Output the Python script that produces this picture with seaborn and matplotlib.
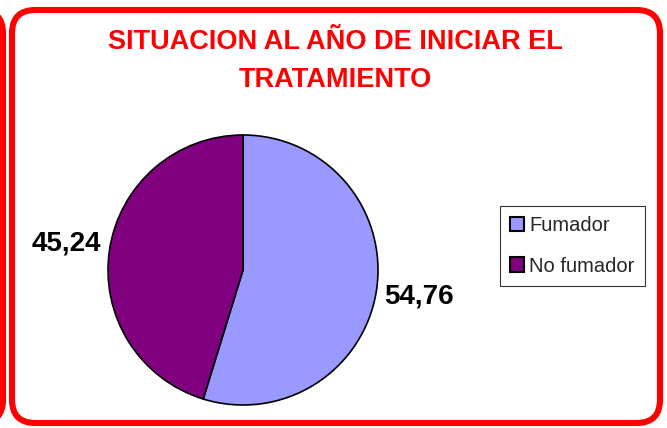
import matplotlib
matplotlib.use("Agg")
import matplotlib.pyplot as plt
from matplotlib.patches import FancyBboxPatch, Patch
import seaborn as sns

categorias = ["Fumador", "No fumador"]
valores = [54.76, 45.24]
colores = ["#9999FF", "#800080"]
titulo = "SITUACION AL AÑO DE INICIAR EL\nTRATAMIENTO"

sns.set_style("white")
plt.rcParams["font.family"] = ["Liberation Sans", "DejaVu Sans"]

W, H = 667, 428
fig = plt.figure(figsize=(W / 100, H / 100), dpi=100)
fig.patch.set_facecolor("white")

# marcos rojos redondeados (el de la izquierda es el borde de otro grafico)
for x0, x1 in [(-300, 3), (12, 660)]:
    box = FancyBboxPatch((x0 / W, 5 / H), (x1 - x0) / W, 413 / H,
                         boxstyle="round,pad=0,rounding_size=0.035",
                         transform=fig.transFigure, fill=False,
                         edgecolor="#FF0000", linewidth=4.4, mutation_aspect=W / H)
    fig.patches.append(box)

fig.text(335 / W, 1 - 61 / H, titulo, ha="center", va="center", color="#FF0000",
         fontsize=19.5, fontweight="bold", linespacing=1.6)

cx, cy, r = 243, 270, 135
ax = fig.add_axes([(cx - r) / W, (H - cy - r) / H, 2 * r / W, 2 * r / H])
wedges, textos, autotextos = ax.pie(
    valores, colors=colores, startangle=90, counterclock=False,
    wedgeprops=dict(edgecolor="black", linewidth=1.2),
    autopct=lambda p: f"{p:.2f}".replace(".", ","), pctdistance=1.32)
for t in autotextos:
    t.set_fontsize(20)
    t.set_fontweight("bold")
    t.set_color("black")
ax.set_aspect("equal")
ax.set_xlim(-1, 1)
ax.set_ylim(-1, 1)
ax.axis("off")

handles = [Patch(facecolor=c, edgecolor="black", linewidth=1.5) for c in colores]
leg = fig.legend(handles, categorias, loc="center left",
                 bbox_to_anchor=(500 / W, 1 - 246 / H), fontsize=14.5,
                 frameon=True, fancybox=False, edgecolor="black",
                 handlelength=0.7, handleheight=0.7, handletextpad=0.25,
                 labelspacing=1.05, borderpad=0.5, borderaxespad=0)
leg.get_frame().set_linewidth(0.8)

fig.savefig("out.png", dpi=100, facecolor="white")
